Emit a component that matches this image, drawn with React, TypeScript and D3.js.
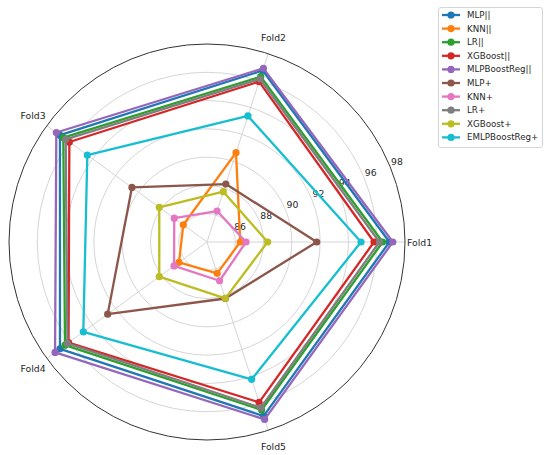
import * as d3 from 'd3';

const folds = ['Fold1', 'Fold2', 'Fold3', 'Fold4', 'Fold5'];
const rTicks = [86, 88, 90, 92, 94, 96, 98];

const models = ['MLP||', 'KNN||', 'LR||', 'XGBoost||', 'MLPBoostReg||', 'MLP+', 'KNN+', 'LR+', 'XGBoost+', 'EMLPBoostReg+'];
const mlpPar = [96.9, 96.75, 96.85, 96.85, 96.94];
const knnPar = [86.35, 90.64, 86.07, 86.45, 86.33];
const lrPar = [96.42, 96.29, 96.56, 96.41, 96.49];
const xgbPar = [95.81, 95.92, 96.03, 96.1, 95.92];
const mlpBoostPar = [97.14, 96.91, 97.17, 97.28, 97.19];
const mlpPlus = [91.76, 88.31, 90.56, 92.68, 88.2];
const knnPlus = [86.76, 86.3, 86.86, 86.88, 86.88];
const lrPlus = [96.19, 96.12, 96.35, 96.2, 96.32];
const xgbPlus = [88.29, 87.74, 88.17, 88.17, 88.19];
const emlpPlus = [94.89, 93.37, 94.46, 94.81, 94.21];

const series = [mlpPar, knnPar, lrPar, xgbPar, mlpBoostPar, mlpPlus, knnPlus, lrPlus, xgbPlus, emlpPlus];

export default function App() {
  const width = 550;
  const height = 455;
  const cx = 207;
  const cy = 242;
  const R = 198;
  const font = 'DejaVu Sans, sans-serif';

  const r = d3.scaleLinear().domain([84, 98]).range([0, R]);
  const color = d3.scaleOrdinal<string, string>().domain(models).range(d3.schemeCategory10);
  // matplotlib angles: counter-clockwise from 3 o'clock
  const angle = (i: number) => (i * 2 * Math.PI) / folds.length;
  const pt = (i: number, rad: number): [number, number] => [
    cx + rad * Math.cos(angle(i)),
    cy - rad * Math.sin(angle(i)),
  ];

  const line = d3.line<[number, number]>().curve(d3.curveLinearClosed);
  const labelAng = (22.5 * Math.PI) / 180;

  return (
    <svg width={width} height={height} style={{ position: 'absolute', left: 0, top: 0, background: '#fff' }}>
      {/* grid circles */}
      {rTicks.slice(0, -1).map(t => (
        <circle key={t} cx={cx} cy={cy} r={r(t)} fill="none" stroke="#d0d0d0" strokeWidth={0.9} />
      ))}
      {/* spokes */}
      {folds.map((f, i) => {
        const [x, y] = pt(i, R);
        return <line key={f} x1={cx} y1={cy} x2={x} y2={y} stroke="#d0d0d0" strokeWidth={0.9} />;
      })}
      <circle cx={cx} cy={cy} r={R} fill="none" stroke="#333" strokeWidth={1} />

      {/* radial tick labels */}
      {rTicks.map(t => (
        <text
          key={t}
          x={cx + r(t) * Math.cos(labelAng) + 7}
          y={cy - r(t) * Math.sin(labelAng) - 5}
          textAnchor="middle"
          dominantBaseline="central"
          fontFamily={font}
          fontSize={9.3}
          fill="#262626"
        >
          {t}
        </text>
      ))}

      {/* fold labels */}
      {folds.map((f, i) => {
        const [x, y] = pt(i, i === 0 ? R + 2 : 215);
        return (
          <text
            key={f}
            x={x}
            y={y}
            textAnchor={i === 0 ? 'start' : 'middle'}
            dominantBaseline="central"
            fontFamily={font}
            fontSize={9.3}
            fill="#262626"
          >
            {f}
          </text>
        );
      })}

      {/* series */}
      {series.map((vals, s) => {
        const pts = vals.map((v, i) => pt(i, r(v)));
        return (
          <g key={models[s]}>
            <path d={line(pts) ?? ''} fill="none" stroke={color(models[s])} strokeWidth={2.3} strokeLinejoin="round" />
            {pts.map((p, i) => (
              <circle key={i} cx={p[0]} cy={p[1]} r={3.6} fill={color(models[s])} />
            ))}
          </g>
        );
      })}

      {/* legend */}
      <rect x={438.5} y={7.5} width={104} height={140} rx={2.5} fill="#fff" stroke="#d0d0d0" strokeWidth={0.9} />
      {models.map((m, k) => {
        const y = 15 + k * 13.6;
        return (
          <g key={m}>
            <line x1={442} x2={460} y1={y} y2={y} stroke={color(m)} strokeWidth={2.3} />
            <circle cx={451} cy={y} r={3.6} fill={color(m)} />
            <text x={467} y={y} dominantBaseline="central" fontFamily={font} fontSize={8.7} fill="#262626">
              {m}
            </text>
          </g>
        );
      })}
    </svg>
  );
}
